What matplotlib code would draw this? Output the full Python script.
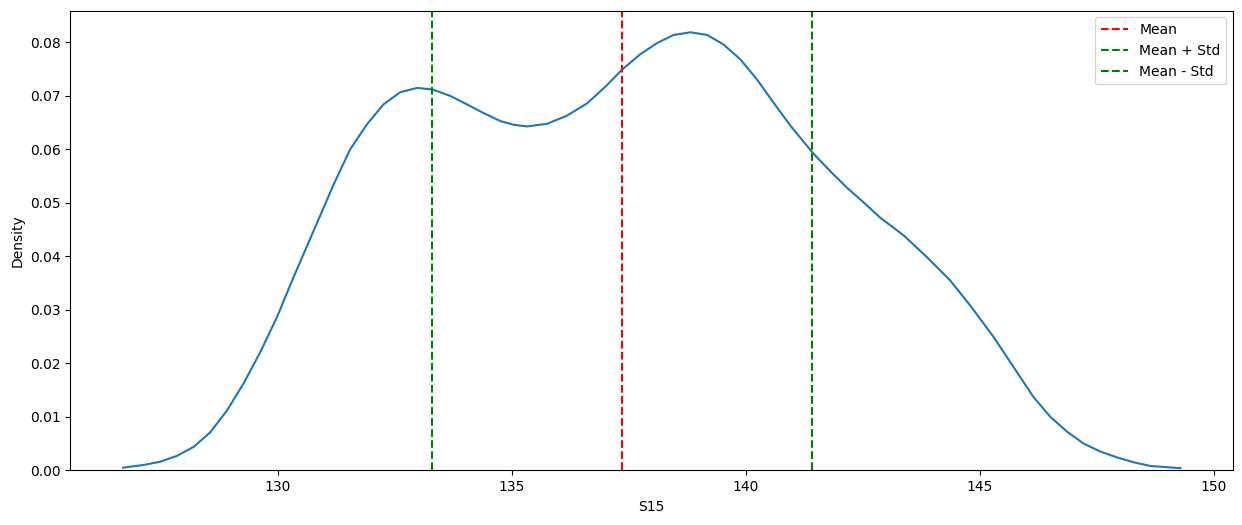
import matplotlib
matplotlib.use("Agg")
import matplotlib.pyplot as plt

# density curve (S15 value, density)
s15 = [126.70, 127.14, 127.49, 127.85, 128.21, 128.56, 128.92, 129.27, 129.63,
       129.99, 130.34, 130.77, 131.20, 131.55, 131.91, 132.26, 132.62, 132.98,
       133.31, 133.69, 134.05, 134.40, 134.76, 135.05, 135.33, 135.76, 136.18,
       136.61, 137.00, 137.37, 137.75, 138.11, 138.46, 138.82, 139.18, 139.53,
       139.89, 140.24, 140.60, 140.96, 141.43, 141.81, 142.17, 142.52, 142.88,
       143.38, 143.88, 144.37, 144.80, 145.30, 145.80, 146.15, 146.51, 146.87,
       147.22, 147.58, 147.94, 148.29, 148.65, 149.29]
density = [0.0005, 0.0010, 0.0016, 0.0027, 0.0044, 0.0071, 0.0112, 0.0162, 0.0221,
           0.0287, 0.0361, 0.0448, 0.0535, 0.0600, 0.0647, 0.0684, 0.0707, 0.0715,
           0.0712, 0.0700, 0.0684, 0.0668, 0.0653, 0.0646, 0.0643, 0.0648, 0.0663,
           0.0686, 0.0717, 0.0750, 0.0778, 0.0799, 0.0814, 0.0819, 0.0814, 0.0796,
           0.0768, 0.0731, 0.0687, 0.0644, 0.0594, 0.0559, 0.0528, 0.0501, 0.0472,
           0.0439, 0.0398, 0.0355, 0.0308, 0.0249, 0.0183, 0.0137, 0.0100, 0.0072,
           0.0050, 0.0035, 0.0024, 0.0015, 0.0008, 0.0004]

mean = 137.36
std = 4.06

fig, ax = plt.subplots(figsize=(12.42, 5.25), dpi=100)
fig.subplots_adjust(left=0.0566, right=0.993, top=0.980, bottom=0.1042)

ax.plot(s15, density, color='#1f77b4', linewidth=1.5)
ax.set_ylim(bottom=0)
ax.axvline(mean, color='r', linestyle='--', label='Mean')
ax.axvline(mean + std, color='g', linestyle='--', label='Mean + Std')
ax.axvline(mean - std, color='g', linestyle='--', label='Mean - Std')
ax.set_xlabel('S15')
ax.set_ylabel('Density')
ax.legend()

fig.savefig('out.png', dpi=100)
